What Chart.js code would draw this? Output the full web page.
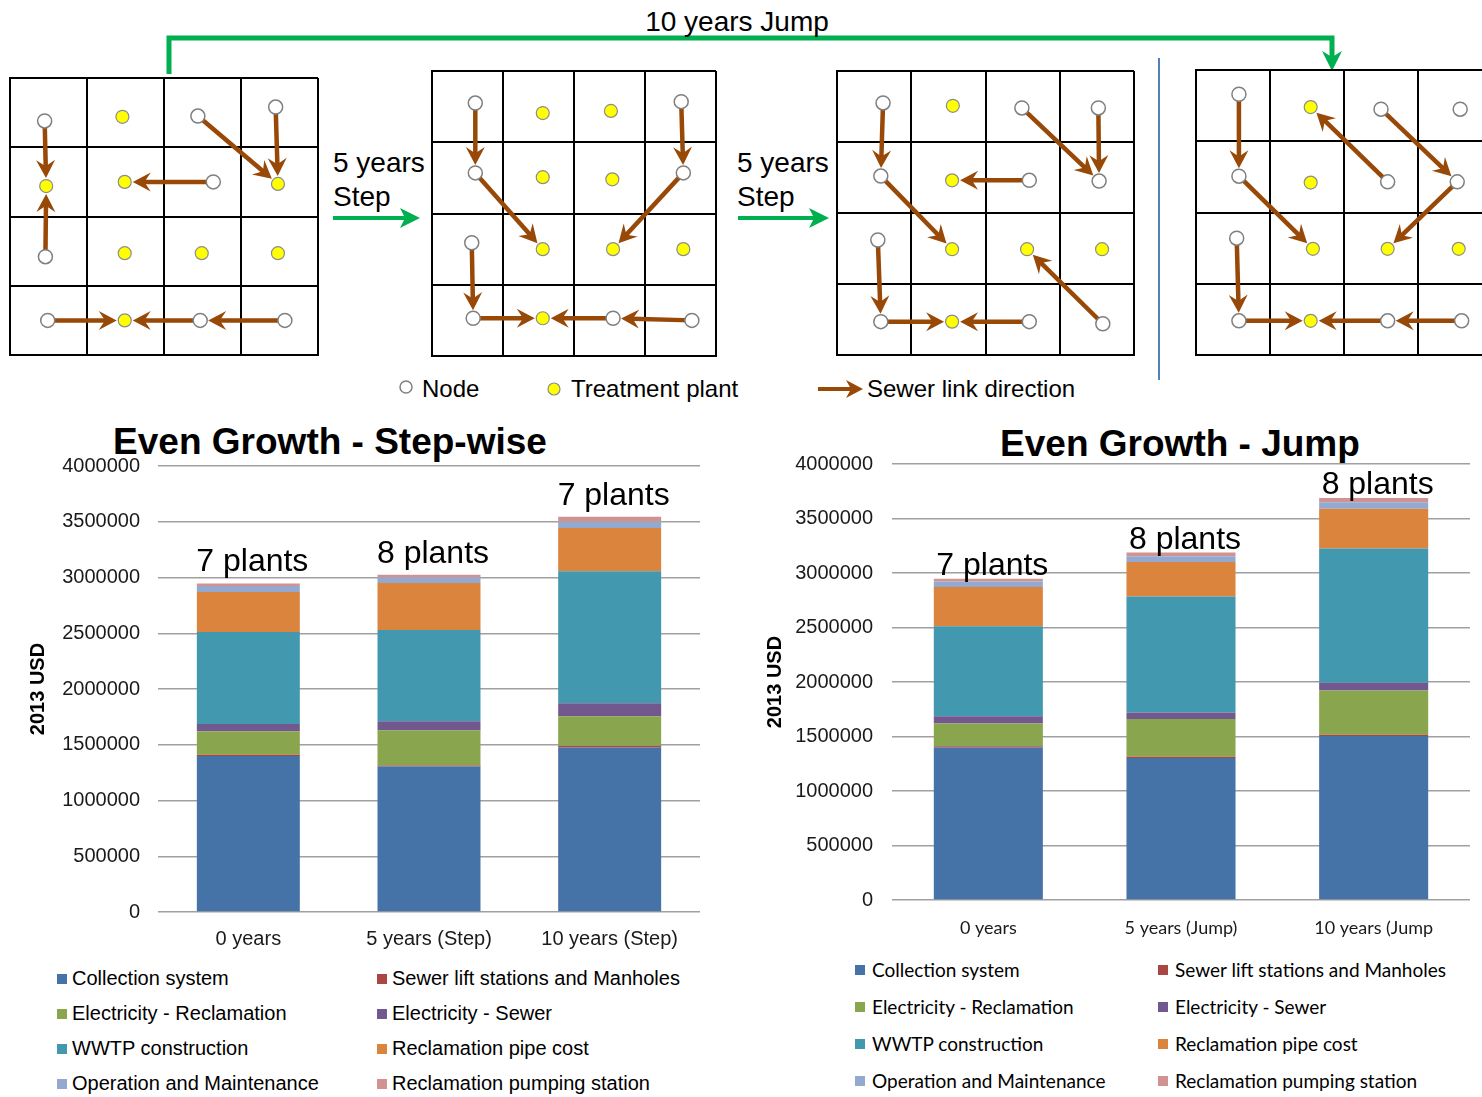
<!DOCTYPE html>
<html>
<head>
<meta charset="utf-8">
<script src="https://cdn.jsdelivr.net/npm/chart.js@4.4.0/dist/chart.umd.min.js"></script>
<style>
    body {
        margin: 0;
        width: 1482px;
        height: 1097px;
        overflow: hidden;
        background: #fff;
        position: relative;
        font-family: "Liberation Sans", Arial, sans-serif;
    }
    canvas, svg { position: absolute; }
    .texto { position: absolute; white-space: nowrap; line-height: 1; color: #000; }
    .centro { transform: translateX(-50%); }
    .titulo { font-size: 37px; font-weight: bold; }
    .legenda { position: absolute; display: grid; }
    .item { display: flex; align-items: center; white-space: nowrap; color: #000; }
    .quadrado { display: inline-block; width: 10px; height: 10px; }
</style>
</head>
<body>

<svg style="left:0;top:0" width="1482" height="410">
    <polyline points="169,74 169,38 1332,38 1332,58" fill="none" stroke="#00B050" stroke-width="5"/>
    <path d="M1332,71 L1322,51 L1332,57 L1342,51 Z" fill="#00B050"/>
    <line x1="333" y1="218" x2="406" y2="218" stroke="#00B050" stroke-width="4"/>
    <path d="M420,218 L400,208 L405,218 L400,228 Z" fill="#00B050"/>
    <line x1="738" y1="218" x2="814" y2="218" stroke="#00B050" stroke-width="4"/>
    <path d="M829,218 L809,208 L814,218 L809,228 Z" fill="#00B050"/>
    <line x1="1159" y1="58" x2="1159" y2="380" stroke="#4F81BD" stroke-width="2"/>
    <circle cx="406" cy="387" r="6" fill="#fff" stroke="#808080" stroke-width="1.5"/>
    <circle cx="554" cy="389" r="6" fill="#FFFF00" stroke="#8C8C8C" stroke-width="1.2"/>
    <line x1="818" y1="389" x2="852" y2="389" stroke="#984807" stroke-width="4"/>
    <path d="M863,389 L846,380 L851,389 L846,398 Z" fill="#984807"/>
</svg>

<div class="texto centro" style="left:737px;top:8px;font-size:28px">10 years Jump</div>
<div class="texto" style="left:333px;top:149px;font-size:28px">5 years</div>
<div class="texto" style="left:333px;top:183px;font-size:28px">Step</div>
<div class="texto" style="left:737px;top:149px;font-size:28px">5 years</div>
<div class="texto" style="left:737px;top:183px;font-size:28px">Step</div>
<div class="texto" style="left:422px;top:377px;font-size:24px">Node</div>
<div class="texto" style="left:571px;top:377px;font-size:24px">Treatment plant</div>
<div class="texto" style="left:867px;top:377px;font-size:24px">Sewer link direction</div>

<canvas id="grade1" width="314" height="283" style="left:7px;top:75px"></canvas>
<canvas id="grade2" width="290" height="291" style="left:429px;top:68px"></canvas>
<canvas id="grade3" width="303" height="290" style="left:834px;top:68px"></canvas>
<canvas id="grade4" width="302" height="291" style="left:1193px;top:67px"></canvas>

<div class="texto titulo centro" style="left:330px;top:423px">Even Growth - Step-wise</div>
<div class="texto titulo centro" style="left:1180px;top:425px">Even Growth - Jump</div>

<canvas id="graficoStep" width="700" height="545" style="left:0;top:415px"></canvas>
<canvas id="graficoJump" width="742" height="533" style="left:740px;top:415px"></canvas>

<div id="legendaStep" class="legenda" style="left:57px;top:961px;grid-template-columns:320px auto;grid-auto-rows:35px;font-size:20px"></div>
<div id="legendaJump" class="legenda" style="left:855px;top:951px;grid-template-columns:303px auto;grid-auto-rows:37px;font-size:19px;font-family:Lato"></div>

<script>
// categorias e valores dos graficos de barras
const categoriasStep = ['0 years', '5 years (Step)', '10 years (Step)'];
const categoriasJump = ['0 years', '5 years (Jump)', '10 years (Jump'];
const plantasStep = ['7 plants', '8 plants', '7 plants'];
const plantasJump = ['7 plants', '8 plants', '8 plants'];
const ticksY = [0, 500000, 1000000, 1500000, 2000000, 2500000, 3000000, 3500000, 4000000];

const nomesSeries = [
    'Collection system', 'Sewer lift stations and Manholes',
    'Electricity - Reclamation', 'Electricity - Sewer',
    'WWTP construction', 'Reclamation pipe cost',
    'Operation and Maintenance', 'Reclamation pumping station'
];
const coresSeries = ['#4572A7', '#AA4643', '#89A54E', '#71588F', '#4198AF', '#DB843D', '#93A9CF', '#D19392'];

const coletaStep = [1400000, 1305000, 1475000];
const elevatoriasStep = [10000, 10000, 15000];
const eletricidadeReclStep = [210000, 315000, 265000];
const eletricidadeEsgotoStep = [65000, 80000, 118000];
const wwtpStep = [826000, 820000, 1184000];
const tubulacaoStep = [360000, 420000, 388000];
const operacaoStep = [52000, 50000, 54000];
const bombeamentoStep = [24000, 24000, 45000];

const coletaJump = [1400000, 1302000, 1505000];
const elevatoriasJump = [10000, 12000, 12000];
const eletricidadeReclJump = [210000, 347000, 406000];
const eletricidadeEsgotoJump = [65000, 59000, 71000];
const wwtpJump = [826000, 1065000, 1230000];
const tubulacaoJump = [360000, 316000, 366000];
const operacaoJump = [52000, 53000, 59000];
const bombeamentoJump = [24000, 34000, 40000];

// grades do diagrama (coluna, linha) em unidades de celula
const nosGrade1 = [[0.45, 0.62], [2.44, 0.55], [3.45, 0.42], [2.64, 1.5], [0.46, 2.58], [0.49, 3.5], [2.47, 3.5], [3.57, 3.5]];
const plantasGrade1 = [[1.46, 0.56], [0.47, 1.56], [1.49, 1.5], [3.48, 1.53], [1.49, 2.53], [2.49, 2.53], [3.48, 2.53], [1.49, 3.5]];
const ligacoesGrade1 = [
    [0.45, 0.62, 0.47, 1.56], [0.46, 2.58, 0.47, 1.56], [2.44, 0.55, 3.48, 1.53], [3.45, 0.42, 3.48, 1.53],
    [2.64, 1.5, 1.49, 1.5], [0.49, 3.5, 1.49, 3.5], [2.47, 3.5, 1.49, 3.5], [3.57, 3.5, 2.47, 3.5]
];

const nosGrade2 = [[0.61, 0.45], [3.51, 0.43], [0.61, 1.43], [3.54, 1.43], [0.56, 2.41], [0.58, 3.47], [2.55, 3.47], [3.66, 3.5]];
const plantasGrade2 = [[1.56, 0.59], [2.52, 0.56], [1.56, 1.49], [2.54, 1.52], [1.56, 2.5], [2.55, 2.5], [3.54, 2.5], [1.56, 3.47]];
const ligacoesGrade2 = [
    [0.61, 0.45, 0.61, 1.43], [3.51, 0.43, 3.54, 1.43], [0.61, 1.43, 1.56, 2.5], [3.54, 1.43, 2.55, 2.5],
    [0.56, 2.41, 0.58, 3.47], [0.58, 3.47, 1.56, 3.47], [2.55, 3.47, 1.56, 3.47], [3.66, 3.5, 2.55, 3.47]
];

const nosGrade3 = [[0.62, 0.45], [2.49, 0.52], [3.52, 0.52], [0.59, 1.48], [2.59, 1.54], [3.53, 1.55], [0.55, 2.38], [0.59, 3.53], [2.59, 3.53], [3.58, 3.56]];
const plantasGrade3 = [[1.56, 0.49], [1.55, 1.54], [1.55, 2.51], [2.56, 2.51], [3.57, 2.51], [1.55, 3.53]];
const ligacoesGrade3 = [
    [0.62, 0.45, 0.59, 1.48], [2.49, 0.52, 3.53, 1.55], [3.52, 0.52, 3.53, 1.55], [2.59, 1.54, 1.55, 1.54],
    [0.59, 1.48, 1.55, 2.51], [3.58, 3.56, 2.56, 2.51], [0.55, 2.38, 0.59, 3.53], [0.59, 3.53, 1.55, 3.53],
    [2.59, 3.53, 1.55, 3.53]
];

const nosGrade4 = [[0.58, 0.34], [2.5, 0.55], [3.57, 0.55], [0.58, 1.49], [2.59, 1.57], [3.53, 1.57], [0.55, 2.36], [0.58, 3.52], [2.59, 3.52], [3.59, 3.52]];
const plantasGrade4 = [[1.55, 0.52], [1.55, 1.58], [1.58, 2.51], [2.59, 2.51], [3.55, 2.51], [1.55, 3.52]];
const ligacoesGrade4 = [
    [0.58, 0.34, 0.58, 1.49], [2.59, 1.57, 1.55, 0.52], [2.5, 0.55, 3.53, 1.57], [0.58, 1.49, 1.58, 2.51],
    [3.53, 1.57, 2.59, 2.51], [0.55, 2.36, 0.58, 3.52], [0.58, 3.52, 1.55, 3.52], [2.59, 3.52, 1.55, 3.52],
    [3.59, 3.52, 2.59, 3.52]
];

Chart.defaults.font.family = 'Liberation Sans';
Chart.defaults.color = '#1a1a1a';

window.onload = () => {
    carregarGrade('grade1', nosGrade1, plantasGrade1, ligacoesGrade1);
    carregarGrade('grade2', nosGrade2, plantasGrade2, ligacoesGrade2);
    carregarGrade('grade3', nosGrade3, plantasGrade3, ligacoesGrade3);
    carregarGrade('grade4', nosGrade4, plantasGrade4, ligacoesGrade4);

    carregarGrafico('graficoStep', categoriasStep, [
        coletaStep, elevatoriasStep, eletricidadeReclStep, eletricidadeEsgotoStep,
        wwtpStep, tubulacaoStep, operacaoStep, bombeamentoStep
    ], plantasStep, {
        larguraY: 158, paddingTitulo: 26, paddingTicks: 18, topo: 51, direita: 0, paddingX: 15,
        barra: 0.57, fonteX: { family: 'Liberation Sans', size: 20 }, distancia: 12
    });
    carregarGrafico('graficoJump', categoriasJump, [
        coletaJump, elevatoriasJump, eletricidadeReclJump, eletricidadeEsgotoJump,
        wwtpJump, tubulacaoJump, operacaoJump, bombeamentoJump
    ], plantasJump, {
        larguraY: 152, paddingTitulo: 23, paddingTicks: 19, topo: 49, direita: 12, paddingX: 17,
        barra: 0.566, fonteX: { family: 'Lato', size: 18 }, distancia: 4
    });

    montarLegenda('legendaStep', 5);
    montarLegenda('legendaJump', 7);
}

function desenharSeta(ctx, x1, y1, x2, y2, recuo) {
    const d = Math.hypot(x2 - x1, y2 - y1);
    const ux = (x2 - x1) / d, uy = (y2 - y1) / d;
    const px = -uy, py = ux;
    const tx = x2 - ux * recuo, ty = y2 - uy * recuo;
    const comp = 18, meia = 9.5;
    ctx.strokeStyle = '#984807';
    ctx.fillStyle = '#984807';
    ctx.lineWidth = 4.5;
    ctx.beginPath();
    ctx.moveTo(x1, y1);
    ctx.lineTo(tx - ux * comp * 0.6, ty - uy * comp * 0.6);
    ctx.stroke();
    ctx.beginPath();
    ctx.moveTo(tx, ty);
    ctx.lineTo(tx - ux * comp + px * meia, ty - uy * comp + py * meia);
    ctx.lineTo(tx - ux * comp * 0.65, ty - uy * comp * 0.65);
    ctx.lineTo(tx - ux * comp - px * meia, ty - uy * comp - py * meia);
    ctx.closePath();
    ctx.fill();
}

function pluginSetas(ligacoes) {
    return {
        id: 'setas',
        beforeDatasetsDraw(chart) {
            const ctx = chart.ctx;
            const x = chart.scales.x;
            const y = chart.scales.y;
            ctx.save();
            ligacoes.forEach((l) => {
                desenharSeta(ctx,
                    x.getPixelForValue(l[0]), y.getPixelForValue(l[1]),
                    x.getPixelForValue(l[2]), y.getPixelForValue(l[3]), 8);
            });
            ctx.restore();
        }
    }
}

function carregarGrade(id, nos, plantas, ligacoes) {
    const eixo = {
        min: 0,
        max: 4,
        ticks: {
            display: false,
            stepSize: 1
        },
        grid: {
            color: '#000',
            lineWidth: 2,
            drawTicks: false
        },
        border: {
            color: '#000',
            width: 2
        }
    };
    new Chart(document.getElementById(id), {
        type: 'scatter',
        data: {
            datasets: [{
                data: nos.map((p) => ({ x: p[0], y: p[1] })),
                pointRadius: 7,
                pointBackgroundColor: '#FFFFFF',
                pointBorderColor: '#7F7F7F',
                pointBorderWidth: 1.5
            }, {
                data: plantas.map((p) => ({ x: p[0], y: p[1] })),
                pointRadius: 6.5,
                pointBackgroundColor: '#FFFF00',
                pointBorderColor: '#8C8C8C',
                pointBorderWidth: 1.2
            }]
        },
        options: {
            responsive: false,
            animation: false,
            events: [],
            layout: {
                padding: 3,
                autoPadding: false
            },
            scales: {
                x: { ...eixo, type: 'linear' },
                y: { ...eixo, type: 'linear', reverse: true }
            },
            plugins: {
                legend: { display: false },
                tooltip: { enabled: false }
            }
        },
        plugins: [pluginSetas(ligacoes)]
    });
}

function pluginPlantas(rotulos, distancia) {
    return {
        id: 'plantas',
        afterDatasetsDraw(chart) {
            const ctx = chart.ctx;
            const ultimo = chart.getDatasetMeta(chart.data.datasets.length - 1);
            ctx.save();
            ctx.font = '32px "Liberation Sans"';
            ctx.fillStyle = '#000';
            ctx.textAlign = 'center';
            ctx.textBaseline = 'alphabetic';
            ultimo.data.forEach((barra, i) => {
                ctx.fillText(rotulos[i], barra.x + 4, barra.y - distancia);
            });
            ctx.restore();
        }
    }
}

function carregarGrafico(id, categorias, valores, rotulos, cfg) {
    new Chart(document.getElementById(id), {
        type: 'bar',
        data: {
            labels: categorias,
            datasets: nomesSeries.map((nome, i) => ({
                label: nome,
                data: valores[i],
                backgroundColor: coresSeries[i],
                barPercentage: cfg.barra,
                categoryPercentage: 1
            }))
        },
        options: {
            responsive: false,
            animation: false,
            events: [],
            layout: {
                padding: { top: cfg.topo, right: cfg.direita, bottom: 0, left: 0 }
            },
            scales: {
                y: {
                    stacked: true,
                    min: 0,
                    max: 4000000,
                    afterBuildTicks: (scale) => {
                        scale.ticks = ticksY.map((v) => ({ value: v }));
                    },
                    afterFit: (scale) => {
                        scale.width = cfg.larguraY;
                    },
                    title: {
                        display: true,
                        text: '2013 USD',
                        color: '#000',
                        padding: { top: cfg.paddingTitulo, bottom: 0 },
                        font: {
                            size: 20,
                            weight: 'bold'
                        }
                    },
                    ticks: {
                        padding: cfg.paddingTicks,
                        color: '#1a1a1a',
                        font: { size: 20 },
                        callback: (v) => String(v)
                    },
                    grid: {
                        color: '#A0A0A0',
                        lineWidth: 1.5,
                        drawTicks: false
                    },
                    border: { display: false }
                },
                x: {
                    stacked: true,
                    afterFit: (scale) => {
                        scale.height = 48;
                    },
                    ticks: {
                        padding: cfg.paddingX,
                        maxRotation: 0,
                        autoSkip: false,
                        color: '#1a1a1a',
                        font: cfg.fonteX
                    },
                    grid: {
                        display: false,
                        drawTicks: false
                    },
                    border: { display: false }
                }
            },
            plugins: {
                legend: { display: false },
                tooltip: { enabled: false }
            }
        },
        plugins: [pluginPlantas(rotulos, cfg.distancia)]
    });
}

function montarLegenda(id, espaco) {
    const legenda = document.getElementById(id);
    for (let i = 0; i < nomesSeries.length; i++) {
        legenda.innerHTML += '<div class="item"><span class="quadrado" style="background:' + coresSeries[i] +
            ';margin-right:' + espaco + 'px"></span>' + nomesSeries[i] + '</div>';
    }
}
</script>
</body>
</html>
